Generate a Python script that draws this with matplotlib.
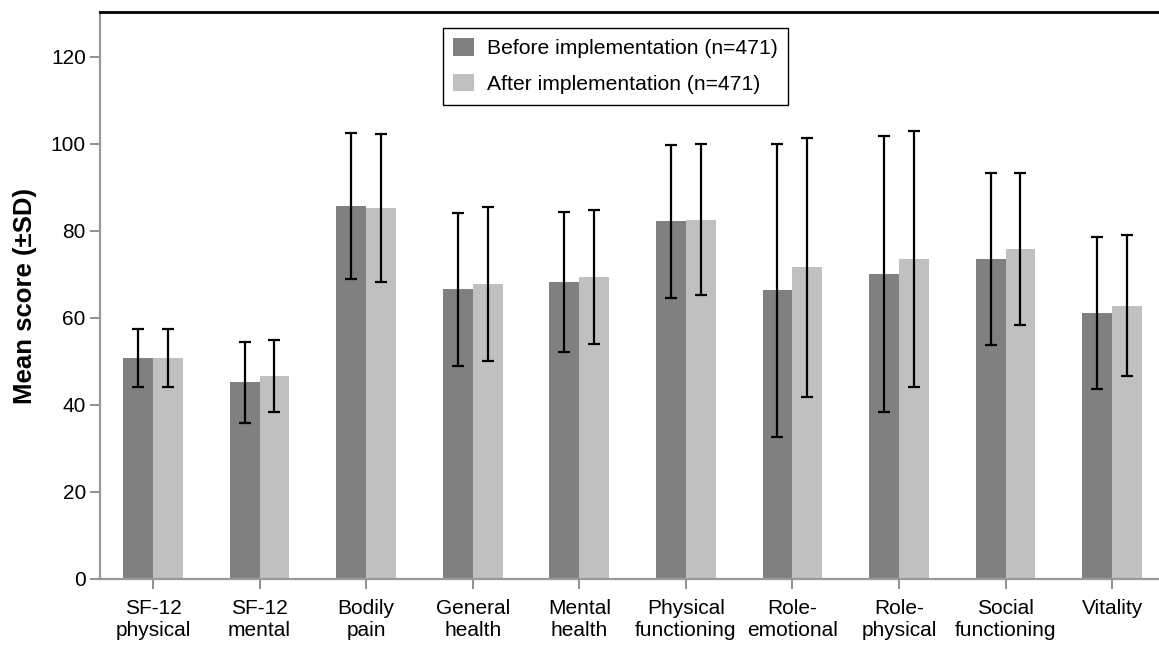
import numpy as np
import matplotlib
matplotlib.use('Agg')
import matplotlib.pyplot as plt

plt.rcParams['font.family'] = ['Liberation Sans', 'DejaVu Sans']

# categories and values
categories = ['SF-12\nphysical', 'SF-12\nmental', 'Bodily\npain', 'General\nhealth',
              'Mental\nhealth', 'Physical\nfunctioning', 'Role-\nemotional',
              'Role-\nphysical', 'Social\nfunctioning', 'Vitality']
before_mean = [50.8, 45.2, 85.7, 66.6, 68.2, 82.2, 66.3, 70.1, 73.5, 61.2]
before_sd = [6.65, 9.35, 16.8, 17.6, 16.05, 17.65, 33.65, 31.8, 19.75, 17.45]
after_mean = [50.8, 46.6, 85.3, 67.9, 69.5, 82.6, 71.6, 73.5, 75.8, 62.8]
after_sd = [6.65, 8.3, 16.95, 17.7, 15.4, 17.35, 29.7, 29.35, 17.5, 16.15]

x = np.arange(len(categories))
w = 0.28

fig = plt.figure(figsize=(11.59, 6.45), dpi=100)
ax = fig.add_axes([99.7/1159, (645-579)/645, (1159-99.7)/1159, (579-12)/645])

err_kw = dict(ecolor='black', elinewidth=1.6, capsize=4.3, capthick=1.6)
ax.bar(x - w/2, before_mean, w, yerr=before_sd, color='#808080',
       label='Before implementation (n=471)', error_kw=err_kw)
ax.bar(x + w/2, after_mean, w, yerr=after_sd, color='#c0c0c0',
       label='After implementation (n=471)', error_kw=err_kw)

ax.set_xlim(-0.5, 9.44)
ax.set_ylim(0, 130.3)
ax.set_yticks(np.arange(0, 121, 20))
ax.set_xticks(x)
ax.set_xticklabels(categories, fontsize=15, linespacing=1.22)
ax.tick_params(axis='y', labelsize=15, length=7, width=1.4, color='#909090', pad=3)
ax.tick_params(axis='x', length=7.5, width=1.4, color='#909090', pad=7)

for s in ['left', 'bottom']:
    ax.spines[s].set_color('#999999')
    ax.spines[s].set_linewidth(1.6)
ax.spines['top'].set_color('black')
ax.spines['top'].set_linewidth(2)
ax.spines['right'].set_visible(False)

ax.set_ylabel('Mean score (\u00b1SD)', fontsize=18.5, fontweight='bold', labelpad=10)

leg = ax.legend(loc='upper center', bbox_to_anchor=(0.487, 0.972), fontsize=15.2,
                fancybox=False, framealpha=1, edgecolor='black', handlelength=0.96,
                handleheight=0.87, borderpad=0.5, labelspacing=0.75, handletextpad=0.63,
                borderaxespad=0)
leg.get_frame().set_linewidth(1.0)

plt.savefig('out.png', dpi=100)
